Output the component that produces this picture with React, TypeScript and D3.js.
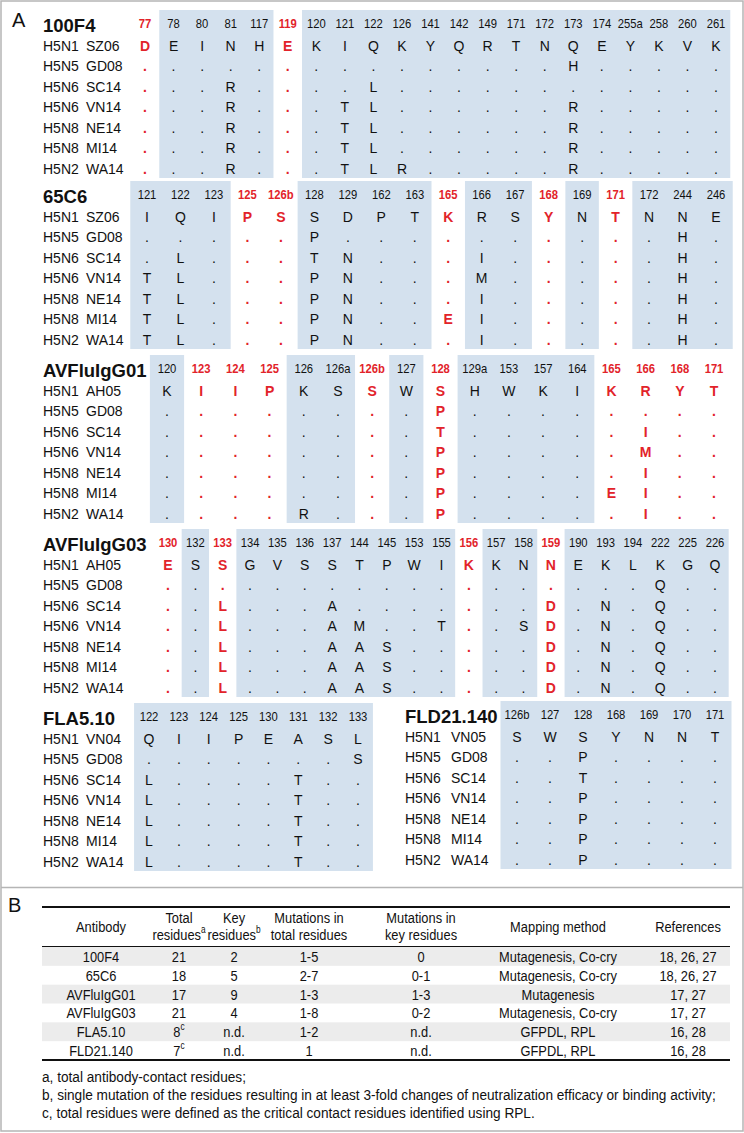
import React from 'react';
import * as d3 from 'd3';

// ---------- Panel A data ----------
const subtypes = ["H5N1", "H5N5", "H5N6", "H5N6", "H5N8", "H5N8", "H5N2"];
const otherStrains = ["GD08", "SC14", "VN14", "NE14", "MI14", "WA14"];

const pos100F4 = ["77","78","80","81","117","119","120","121","122","126","141","142","149","171","172","173","174","255a","258","260","261"];
const key100F4 = ["77","119"];
const seq100F4 = [
  "DEINHEKIQKYQRTNQEYKVK",
  "...............H.....",
  "...R....L............",
  "...R...TL......R.....",
  "...R...TL......R.....",
  "...R...TL......R.....",
  "...R...TLR.....R.....",
];

const pos65C6 = ["121","122","123","125","126b","128","129","162","163","165","166","167","168","169","171","172","244","246"];
const key65C6 = ["125","126b","165","168","171"];
const seq65C6 = [
  "IQIPSSDPTKRSYNTNNE",
  ".....P..........H.",
  ".L...TN...I.....H.",
  "TL...PN...M.....H.",
  "TL...PN...I.....H.",
  "TL...PN..EI.....H.",
  "TL...PN...I.....H.",
];

const posG01 = ["120","123","124","125","126","126a","126b","127","128","129a","153","157","164","165","166","168","171"];
const keyG01 = ["123","124","125","126b","128","165","166","168","171"];
const seqG01 = [
  "KIIPKSSWSHWKIKRYT",
  "........P........",
  "........T.....I..",
  "........P.....M..",
  "........P.....I..",
  "........P....EI..",
  "....R...P.....I..",
];

const posG03 = ["130","132","133","134","135","136","137","144","145","153","155","156","157","158","159","190","193","194","222","225","226"];
const keyG03 = ["130","133","156","159"];
const seqG03 = [
  "ESSGVSSTPWIKKNNEKLKGQ",
  "..................Q..",
  "..L...A.......D.N.Q..",
  "..L...AM..T..SD.N.Q..",
  "..L...AAS.....D.N.Q..",
  "..L...AAS.....D.N.Q..",
  "..L...AAS.....D.N.Q..",
];

const posFLA = ["122","123","124","125","130","131","132","133"];
const keyFLA: string[] = [];
const seqFLA = [
  "QIIPEASL",
  ".......S",
  "L....T..",
  "L....T..",
  "L....T..",
  "L....T..",
  "L....T..",
];

const posFLD = ["126b","127","128","168","169","170","171"];
const keyFLD: string[] = [];
const seqFLD = [
  "SWSYNNT",
  "..P....",
  "..T....",
  "..P....",
  "..P....",
  "..P....",
  "..P....",
];

const panelNames = ["100F4", "65C6", "AVFluIgG01", "AVFluIgG03", "FLA5.10", "FLD21.140"];
const refStrains = ["SZ06", "SZ06", "AH05", "AH05", "VN04", "VN05"];

// ---------- Panel B data ----------
const tblAntibody = ["100F4", "65C6", "AVFluIgG01", "AVFluIgG03", "FLA5.10", "FLD21.140"];
const tblTotal = ["21", "18", "17", "21", "8", "7"];
const tblTotalSup = ["", "", "", "", "c", "c"];
const tblKey = ["2", "5", "9", "4", "n.d.", "n.d."];
const tblMutTotal = ["1-5", "2-7", "1-3", "1-8", "1-2", "1"];
const tblMutKey = ["0", "0-1", "1-3", "0-2", "n.d.", "n.d."];
const tblMethod = ["Mutagenesis, Co-cry", "Mutagenesis, Co-cry", "Mutagenesis", "Mutagenesis, Co-cry", "GFPDL, RPL", "GFPDL, RPL"];
const tblRefs = ["18, 26, 27", "18, 26, 27", "17, 27", "17, 27", "16, 28", "16, 28"];
const footnotes = [
  "a, total antibody-contact residues;",
  "b, single mutation of the residues resulting in at least 3-fold changes of neutralization efficacy or binding activity;",
  "c, total residues were defined as the critical contact residues identified using RPL.",
];

// ---------- layout ----------
const RED = "#e2232a";
const BLUE = "#d4e1ee";
const FONT = "'Liberation Sans', Arial, sans-serif";

const panelLayout = [
  { x0: 145, x1: 716, yHead: 24, lx: 43, sx: 86 },
  { x0: 147, x1: 716, yHead: 195, lx: 43, sx: 86 },
  { x0: 167, x1: 714, yHead: 369, lx: 43, sx: 86 },
  { x0: 168, x1: 715, yHead: 543, lx: 43, sx: 86 },
  { x0: 149, x1: 358, yHead: 717, lx: 43, sx: 86 },
  { x0: 517, x1: 715, yHead: 715, lx: 405, sx: 451 },
];

const panelData = [
  { pos: pos100F4, key: key100F4, seq: seq100F4 },
  { pos: pos65C6, key: key65C6, seq: seq65C6 },
  { pos: posG01, key: keyG01, seq: seqG01 },
  { pos: posG03, key: keyG03, seq: seqG03 },
  { pos: posFLA, key: keyFLA, seq: seqFLA },
  { pos: posFLD, key: keyFLD, seq: seqFLD },
];

// condensed text helper (no narrow font installed)
function CText({ x, y, sx, size, anchor = "middle", children }: any) {
  return (
    <text transform={`translate(${x},${y}) scale(${sx},1)`} textAnchor={anchor} dominantBaseline="central" fontSize={size}>
      {children}
    </text>
  );
}

function Panel({ idx }: { idx: number }) {
  const L = panelLayout[idx];
  const D = panelData[idx];
  const x = d3.scalePoint<string>().domain(D.pos).range([L.x0, L.x1]);
  const step = x.step();
  const rowIds = d3.range(D.seq.length);
  const y = d3.scaleLinear().domain([0, 6]).range([L.yHead + 21.5, L.yHead + 21.5 + 6 * 20.5]);
  const isKey = (p: string) => D.key.includes(p);

  const runs: string[][] = [];
  let cur: string[] = [];
  D.pos.forEach((p) => {
    if (isKey(p)) {
      if (cur.length) runs.push(cur);
      cur = [];
    } else cur.push(p);
  });
  if (cur.length) runs.push(cur);

  const top = L.yHead - 14;
  const bottom = y(6) + 9.5;
  const strains = [refStrains[idx], ...otherStrains];

  return (
    <g>
      {runs.map((r, i) => (
        <rect key={i} x={(x(r[0]) as number) - step / 2} y={top}
          width={(x(r[r.length - 1]) as number) - (x(r[0]) as number) + step} height={bottom - top} fill={BLUE} />
      ))}
      <text x={L.lx} y={L.yHead + 1} dominantBaseline="central" fontSize={18.5} fontWeight="bold" fill="#111">
        {panelNames[idx]}
      </text>
      {D.pos.map((p) => (
        <g key={p} fill={isKey(p) ? RED : "#111"} fontWeight={isKey(p) ? "bold" : "normal"}>
          <CText x={x(p)} y={L.yHead} sx={0.9} size={12.5}>{p}</CText>
        </g>
      ))}
      {rowIds.map((r) => (
        <g key={r}>
          <text x={L.lx} y={y(r)} dominantBaseline="central" fontSize={14} fill="#111">{subtypes[r]}</text>
          <text x={L.sx} y={y(r)} dominantBaseline="central" fontSize={14} fill="#111">{strains[r]}</text>
          {D.pos.map((p, c) => {
            const ch = D.seq[r][c];
            const k = isKey(p);
            return (
              <text key={p} x={x(p)} y={y(r)} textAnchor="middle" dominantBaseline="central"
                fontSize={14} fontWeight={k ? "bold" : "normal"} fill={k ? RED : "#111"}>
                {ch}
              </text>
            );
          })}
        </g>
      ))}
    </g>
  );
}

function TableB() {
  const cols = [
    { x: 101, head: ["Antibody"], sup: [""] },
    { x: 179, head: ["Total", "residues"], sup: ["", "a"] },
    { x: 234, head: ["Key", "residues"], sup: ["", "b"] },
    { x: 309, head: ["Mutations in", "total residues"], sup: ["", ""] },
    { x: 421, head: ["Mutations in", "key residues"], sup: ["", ""] },
    { x: 558, head: ["Mapping method"], sup: [""] },
    { x: 688, head: ["References"], sup: [""] },
  ];
  const colVals = [tblAntibody, tblTotal, tblKey, tblMutTotal, tblMutKey, tblMethod, tblRefs];
  const y = d3.scaleBand<number>().domain(d3.range(tblAntibody.length)).range([947, 1060]);
  const xL = 42, xR = 730;
  const fs = 15.5, sx = 0.83;
  return (
    <g fill="#111">
      {tblAntibody.map((_, i) => i % 2 === 0 ? (
        <rect key={i} x={xL} y={y(i)} width={xR - xL} height={y.bandwidth()} fill="#ececec" />
      ) : null)}
      <line x1={xL} x2={xR} y1={907} y2={907} stroke="#111" strokeWidth={2} />
      <line x1={xL} x2={xR} y1={946.5} y2={946.5} stroke="#111" strokeWidth={1} />
      <line x1={xL} x2={xR} y1={1060} y2={1060} stroke="#111" strokeWidth={2} />
      {cols.map((c, ci) => (
        <g key={ci}>
          {c.head.map((h, hi) => {
            const yy = c.head.length === 1 ? 927 : 918 + hi * 17;
            return (
              <CText key={hi} x={c.x} y={yy} sx={sx} size={fs}>
                {h}
                {c.sup[hi] ? <tspan fontSize={10} dy={-5}>{c.sup[hi]}</tspan> : null}
              </CText>
            );
          })}
          {colVals[ci].map((v, ri) => (
            <CText key={ri} x={c.x} y={(y(ri) as number) + y.bandwidth() / 2} sx={sx} size={fs}>
              {v}
              {ci === 1 && tblTotalSup[ri] ? <tspan fontSize={10} dy={-5}>{tblTotalSup[ri]}</tspan> : null}
            </CText>
          ))}
        </g>
      ))}
      {footnotes.map((f, i) => (
        <CText key={i} x={42} y={1077 + i * 18} sx={0.91} size={15} anchor="start">{f}</CText>
      ))}
    </g>
  );
}

export default function App() {
  const W = 744, H = 1133;
  return (
    <svg width={W} height={H} style={{ position: 'absolute', left: 0, top: 0, background: '#fff' }} fontFamily={FONT}>
      <rect x={0} y={0} width={W} height={H} fill="#fff" />
      <rect x={1} y={1} width={W - 2} height={H - 3} fill="none" stroke="#b5b5b5" strokeWidth={1.5} />
      <line x1={1} x2={W - 1} y1={887.5} y2={887.5} stroke="#b5b5b5" strokeWidth={1.5} />
      <text x={12} y={20} dominantBaseline="central" fontSize={20} fill="#111">A</text>
      <text x={8} y={905} dominantBaseline="central" fontSize={20} fill="#111">B</text>
      {panelData.map((_, i) => <Panel key={i} idx={i} />)}
      <TableB />
    </svg>
  );
}
